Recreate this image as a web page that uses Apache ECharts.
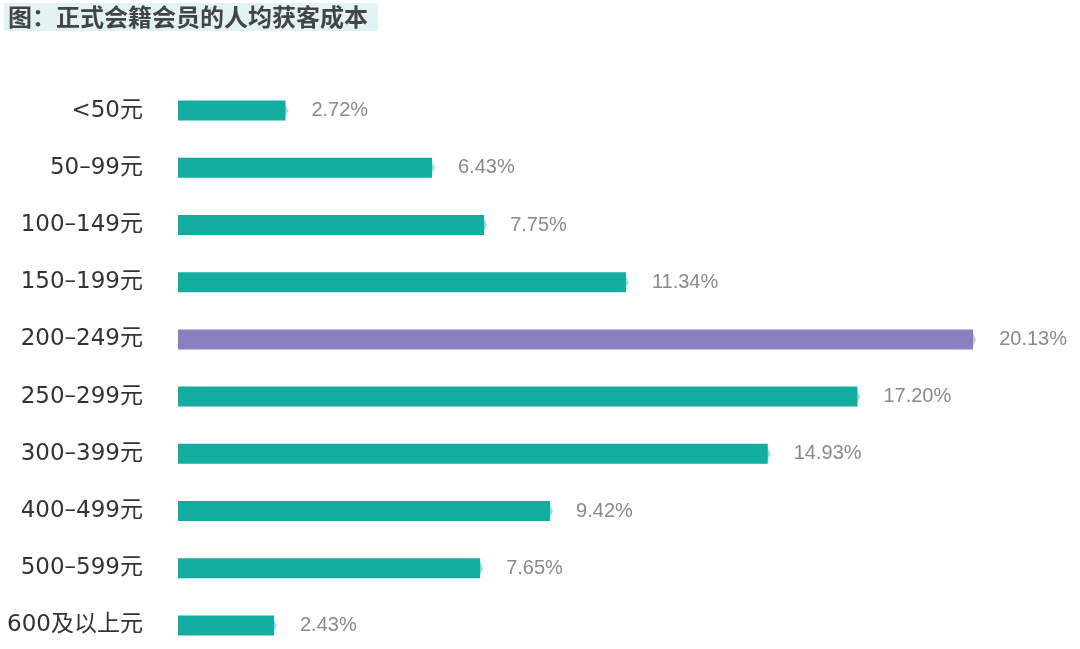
<!DOCTYPE html>
<html><head><meta charset="utf-8">
<script src="https://cdn.jsdelivr.net/npm/echarts@6/dist/echarts.min.js"></script>
<style>html,body{margin:0;padding:0;background:#fff}#c{width:1080px;height:649px}</style>
</head><body><div id="c"></div>
<script>
var categories = ['<50元','50–99元','100–149元','150–199元','200–249元','250–299元','300–399元','400–499元','500–599元','600及以上元'];
var values = [2.72, 6.43, 7.75, 11.34, 20.13, 17.20, 14.93, 9.42, 7.65, 2.43];
var highlightIndex = 4;
var titleText = '图：正式会籍会员的人均获客成本';

var teal = '#12aca1', purple = '#8a80bf';
var tealTip = '#a3ded8', purpleTip = '#cdc8e8';
var chart = echarts.init(document.getElementById('c'));
chart.setOption({
  backgroundColor: '#fff',
  animation: false,
  title: {
    text: titleText, left: 4, top: 3,
    backgroundColor: '#e2f3f3', padding: [2, 10, 2, 4],
    textStyle: {fontFamily: 'Noto Sans CJK SC', fontSize: 24, fontWeight: 'bold', color: '#444'}
  },
  grid: {left: 178, top: 82, height: 572, width: 829.5, outerBoundsMode: 'none', containLabel: false},
  xAxis: {type: 'value', min: 0, max: 21, show: false},
  yAxis: {
    type: 'category', data: categories, inverse: true,
    axisLine: {show: false}, axisTick: {show: false},
    axisLabel: {margin: 35, fontFamily: ['DejaVu Sans', 'Noto Sans CJK SC'], fontSize: 23, color: '#333'}
  },
  series: [{
    type: 'pictorialBar', symbol: 'diamond', symbolPosition: 'end',
    symbolSize: [10, 20], symbolOffset: [3, 0], z: 1,
    data: values.map(function(v, i){ return {value: v, itemStyle: {color: i === highlightIndex ? purpleTip : tealTip}}; }),
    label: {show: false}
  }, {
    type: 'bar', barWidth: 20, z: 2,
    data: values.map(function(v, i){ return {value: v, itemStyle: {color: i === highlightIndex ? purple : teal}}; }),
    label: {
      show: true, position: 'right', distance: 26,
      formatter: function(p){ return p.value.toFixed(2) + '%'; },
      fontFamily: 'Liberation Sans', fontSize: 20, color: '#8a8a8a'
    }
  }]
});
</script></body></html>
